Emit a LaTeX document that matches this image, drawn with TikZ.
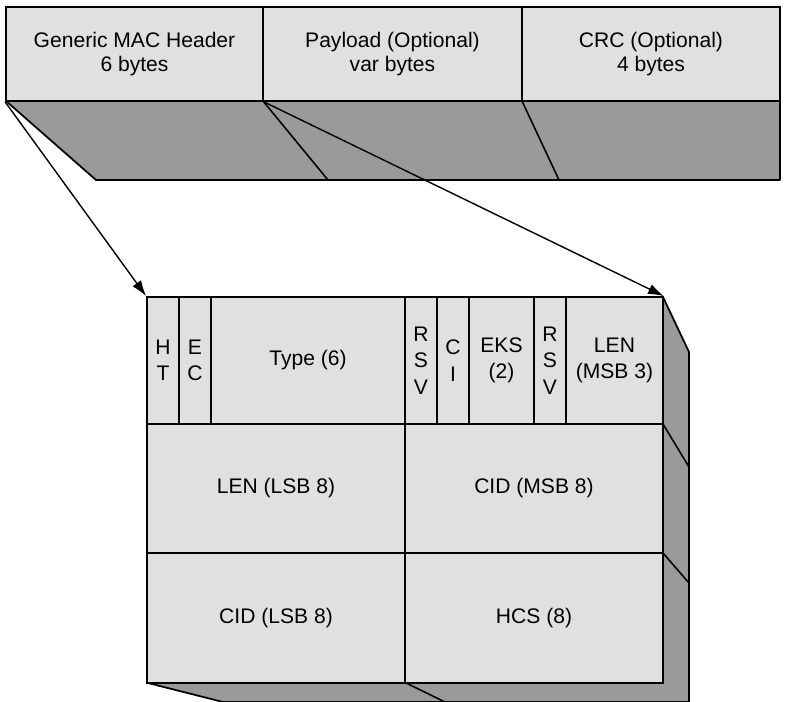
\documentclass[tikz,border=0pt]{standalone}
\usepackage{fontspec}
\setmainfont{Liberation Sans}
\usetikzlibrary{arrows.meta, fit}
\definecolor{facegray}{HTML}{E0E0E0}
\definecolor{sidegray}{HTML}{9A9A9A}
\tikzset{
	field/.style={draw, line width=1pt, fill=facegray, inner sep=0pt},
	fieldtext/.style={inner sep=0pt, align=center, font=\fontsize{12}{15}\selectfont},
	pdutext/.style={fieldtext, font=\fontsize{12}{13.4}\selectfont},
	side/.style={draw, line width=1pt, fill=sidegray, line join=round},
	edge/.style={line width=0.9pt},
	link/.style={draw, line width=0.8pt, -{Latex[length=9pt, width=6pt]}}
}
\begin{document}
\begin{tikzpicture}[x=0.02cm, y=-0.02cm]
	\useasboundingbox (0,0) rectangle (785,702);
	
	% MAC PDU: extruded underside of the top frame
	\draw[side] (6,101) -- (780,101) -- (780,180) -- (96,180) -- cycle;
	\draw[edge] (263,101) -- (328,180);
	\draw[edge] (522,101) -- (559,180);
	
	% MAC PDU fields
	\node[field, fit={(6,7) (263,101)}] (gmh) {};
	\node[field, fit={(263,7) (522,101)}] (payload) {};
	\node[field, fit={(522,7) (780,101)}] (crc) {};
	\node[pdutext] at (gmh) {Generic MAC Header\\6 bytes};
	\node[pdutext] at (payload) {Payload (Optional)\\var bytes};
	\node[pdutext] at (crc) {CRC (Optional)\\4 bytes};
	
	% Header block: right side and bottom
	\draw[side] (148,683) -- (663,683) -- (663,297) -- (689,352) -- (689,702) -- (223,702) -- cycle;
	\draw[edge] (663,424) -- (689,467);
	\draw[edge] (663,553) -- (689,583);
	\draw[edge] (406,683) -- (445,702);
	
	% Header bits, first row
	\foreach \nm/\xa/\xb/\txt in {ht/147/179/H\\T, ec/179/211/E\\C, type/211/405/Type (6),
		rsva/405/437/R\\S\\V, ci/437/469/C\\I, eks/469/534/EKS\\(2),
		rsvb/534/566/R\\S\\V, lenmsb/566/663/LEN\\(MSB 3)} {
		\node[field, fit={(\xa,297) (\xb,424)}] (\nm) {};
		\node[fieldtext] at (\nm) {\txt};
	}
	
	% Remaining rows
	\foreach \nm/\xa/\xb/\ya/\yb/\txt in {lenlsb/147/405/424/553/LEN (LSB 8),
		cidmsb/405/663/424/553/CID (MSB 8), cidlsb/147/405/553/683/CID (LSB 8),
		hcs/405/663/553/683/HCS (8)} {
		\node[field, fit={(\xa,\ya) (\xb,\yb)}] (\nm) {};
		\node[fieldtext] at (\nm) {\txt};
	}
	
	% Zoom arrows from the header to the block
	\draw[link] (gmh.south west) -- (ht.north west);
	\draw[link] (gmh.south east) -- (lenmsb.north east);
	
\end{tikzpicture}
\end{document}
